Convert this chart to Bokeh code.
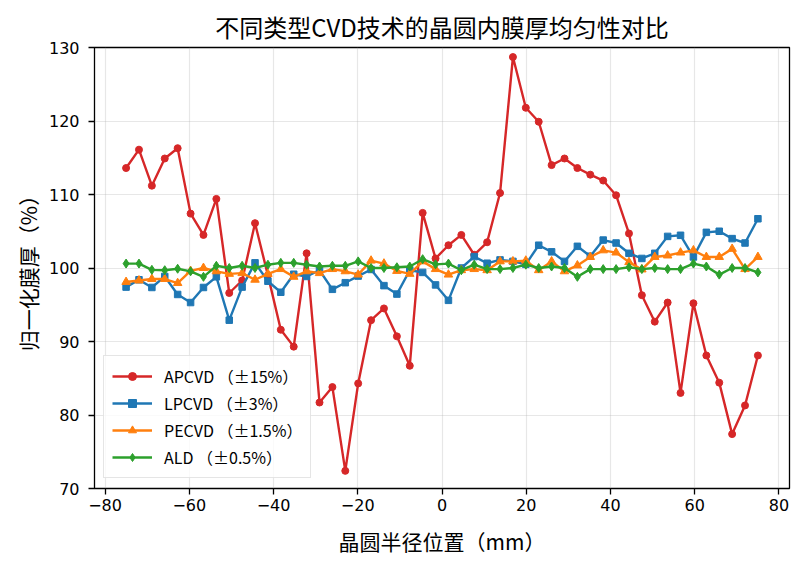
from bokeh.plotting import figure
from bokeh.models import Range1d, FixedTicker, CustomJSTickFormatter
from bokeh.embed import file_html
from bokeh.resources import INLINE

# ---- data ----
positions = [-75.00, -71.94, -68.88, -65.82, -62.76, -59.69, -56.63, -53.57, -50.51, -47.45,
             -44.39, -41.33, -38.27, -35.20, -32.14, -29.08, -26.02, -22.96, -19.90, -16.84,
             -13.78, -10.71, -7.65, -4.59, -1.53, 1.53, 4.59, 7.65, 10.71, 13.78,
             16.84, 19.90, 22.96, 26.02, 29.08, 32.14, 35.20, 38.27, 41.33, 44.39,
             47.45, 50.51, 53.57, 56.63, 59.69, 62.76, 65.82, 68.88, 71.94, 75.00]

apcvd = [113.6, 116.1, 111.2, 114.9, 116.3, 107.4, 104.5, 109.4, 96.6, 98.3,
         106.1, 99.0, 91.6, 89.3, 102.0, 81.7, 83.8, 72.4, 84.3, 92.9,
         94.5, 90.7, 86.7, 107.5, 101.3, 103.1, 104.5, 101.8, 103.5, 110.2,
         128.7, 121.8, 119.9, 114.0, 114.9, 113.6, 112.7, 111.9, 109.9, 104.7,
         96.3, 92.7, 95.3, 83.0, 95.2, 88.1, 84.4, 77.4, 81.3, 88.1]

lpcvd = [97.4, 98.4, 97.35, 98.85, 96.4, 95.3, 97.35, 98.8, 92.9, 97.4,
         100.7, 98.2, 96.7, 99.15, 98.85, 99.7, 97.1, 98.0, 98.9, 99.8,
         97.6, 96.45, 99.7, 99.4, 97.7, 95.6, 100.0, 101.55, 100.65, 101.1,
         100.9, 100.5, 103.1, 102.2, 100.9, 102.95, 101.6, 103.8, 103.4, 102.0,
         101.3, 102.0, 104.3, 104.45, 101.5, 104.85, 105.0, 104.0, 103.4, 106.7]

pecvd = [98.1, 98.3, 98.5, 98.5, 97.95, 99.6, 100.0, 99.55, 99.2, 99.3,
         98.4, 99.2, 99.85, 98.8, 99.55, 99.3, 99.85, 99.55, 99.1, 101.0,
         100.6, 99.6, 99.2, 100.9, 99.85, 99.1, 99.7, 99.85, 99.7, 100.9,
         100.9, 101.0, 99.7, 100.9, 99.55, 100.35, 101.5, 102.4, 102.1, 100.8,
         99.8, 101.5, 101.7, 102.1, 102.4, 101.5, 101.5, 102.6, 99.85, 101.5]

ald = [100.6, 100.6, 99.75, 99.7, 99.9, 99.55, 98.8, 100.3, 100.0, 100.3,
       100.0, 100.45, 100.7, 100.7, 100.45, 100.2, 100.3, 100.3, 100.9, 100.0,
       100.0, 100.1, 100.2, 101.2, 100.5, 100.6, 99.7, 100.45, 99.85, 99.85,
       100.0, 100.45, 100.0, 100.2, 100.0, 98.8, 99.85, 99.85, 99.85, 100.1,
       99.85, 100.0, 99.85, 99.85, 100.6, 100.2, 99.1, 100.0, 100.0, 99.4]

labels = ["APCVD （±15%）", "LPCVD （±3%）", "PECVD （±1.5%）", "ALD （±0.5%）"]
x_ticks = [-80, -60, -40, -20, 0, 20, 40, 60, 80]
y_ticks = [70, 80, 90, 100, 110, 120, 130]

CJK = "Noto Sans CJK SC"

p = figure(width=800, height=561, output_backend="svg", toolbar_location=None,
           x_range=Range1d(-82.5, 82.5), y_range=Range1d(70, 130),
           min_border_left=94, min_border_right=11, min_border_top=47, min_border_bottom=73)

p.title.text = "不同类型CVD技术的晶圆内膜厚均匀性对比"
p.title.text_font = CJK
p.title.text_font_size = "24px"
p.title.text_font_style = "normal"
p.title.text_color = "black"
p.title.align = "center"
p.title.standoff = 8

series = [
    (apcvd, "#d62728", "circle", 7),
    (lpcvd, "#1f77b4", "square", 6.5),
    (pecvd, "#ff7f0e", "triangle", 8.5),
    (ald, "#2ca02c", "diamond", 9),
]
for (vals, col, mk, sz), lab in zip(series, labels):
    p.line(positions, vals, line_color=col, line_width=2.4, legend_label=lab)
    p.scatter(positions, vals, marker=mk, size=sz, fill_color=col,
              line_color=col, legend_label=lab)

fmt = CustomJSTickFormatter(code="return tick < 0 ? '\u2212' + (-tick) : String(tick);")
for ax, ticks in ((p.xaxis, x_ticks), (p.yaxis, y_ticks)):
    ax.ticker = FixedTicker(ticks=ticks)
    ax.formatter = fmt
    ax.major_label_text_font = "DejaVu Sans"
    ax.major_label_text_font_size = "16px"
    ax.major_label_text_color = "black"
    ax.major_tick_out = 6
    ax.major_tick_in = 0
    ax.minor_tick_out = 0
    ax.minor_tick_in = 0
    ax.major_tick_line_color = "black"
    ax.major_tick_line_width = 1.3
    ax.axis_line_color = None
    ax.axis_label_text_font = CJK
    ax.axis_label_text_font_size = "21px"
    ax.axis_label_text_font_style = "normal"
    ax.axis_label_text_color = "black"

p.xaxis.axis_label = "晶圆半径位置（mm）"
p.yaxis.axis_label = "归一化膜厚（%）"
p.xaxis.major_label_standoff = 4
p.yaxis.major_label_standoff = 9
p.xaxis.axis_label_standoff = 12
p.yaxis.axis_label_standoff = 3

p.xgrid.ticker = FixedTicker(ticks=x_ticks)
p.ygrid.ticker = FixedTicker(ticks=y_ticks)
for g in (p.xgrid, p.ygrid):
    g.grid_line_color = "#b0b0b0"
    g.grid_line_alpha = 0.3
    g.grid_line_width = 1.2

p.outline_line_color = "black"
p.outline_line_width = 1.3
p.outline_line_alpha = 1.0

lg = p.legend[0]
lg.location = (9, 10)
lg.label_text_font = CJK
lg.label_text_font_size = "16px"
lg.label_text_color = "black"
lg.glyph_width = 40
lg.glyph_height = 20
lg.label_height = 20
lg.spacing = 3
lg.padding = 8
lg.label_standoff = 12
lg.border_line_color = "#cccccc"
lg.border_line_width = 1
lg.background_fill_alpha = 0.8

open("out.html", "w").write(file_html(p, INLINE))
